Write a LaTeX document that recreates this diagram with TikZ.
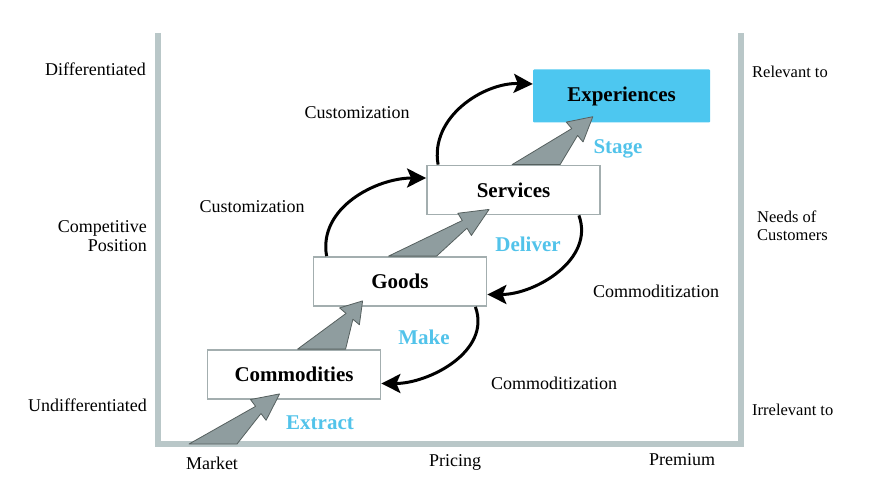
\documentclass[tikz,border=0pt]{standalone}
\usepackage{fontspec}
\setmainfont{Liberation Serif}
\usepackage{tikz}
\usepackage{xcolor}
\usetikzlibrary{arrows.meta,positioning,calc}
\definecolor{framegray}{HTML}{B9C7C8}
\definecolor{boxgray}{HTML}{A3AEAF}
\definecolor{expcyan}{HTML}{4DC7F0}
\definecolor{stagecyan}{HTML}{52C3EA}
\definecolor{arrowfill}{HTML}{8F9D9F}
\definecolor{arrowline}{HTML}{56605F}
\tikzset{
  stagebox/.style={
    draw=boxgray,
    fill=white,
    line width=1.8pt,
    minimum width=173pt,
    minimum height=49pt,
    inner sep=0pt,
    font=\fontsize{21}{23}\selectfont\bfseries
  },
  topbox/.style={
    fill=expcyan,
    rounded corners=1pt,
    minimum width=177pt,
    minimum height=53pt,
    inner sep=0pt,
    font=\fontsize{21}{23}\selectfont\bfseries
  },
  verblabel/.style={text=stagecyan, inner sep=0pt, font=\fontsize{21}{23}\selectfont\bfseries},
  sidelabel/.style={inner sep=0pt, align=right, font=\fontsize{18}{19}\selectfont},
  rightlabel/.style={inner sep=0pt, align=left, font=\fontsize{16.5}{18}\selectfont},
  flowlabel/.style={inner sep=0pt, font=\fontsize{18}{20}\selectfont},
  framefill/.style={draw=framegray, line width=5.5pt},
  cyclearrow/.style={-{Stealth[length=19pt,width=19pt,inset=4pt]}, line width=3pt, draw=black},
  stepshape/.style={fill=arrowfill, draw=arrowline, line width=0.8pt, line join=round}
}
\newcommand{\stagearrow}[2]{%
  \path ($(#1)!0.68!(#2)$) coordinate (neck);
  \draw[stepshape] ($(#1)+(-24,0)$) -- ($(neck)!4.5pt!90:(#2)$) -- ($(neck)!13pt!90:(#2)$)
    -- (#2) -- ($(neck)!13pt!-90:(#2)$) -- ($(neck)!4.5pt!-90:(#2)$) -- ($(#1)+(24,0)$) -- cycle;
}

\begin{document}
\begin{tikzpicture}[x=1pt,y=-1pt]
\useasboundingbox (0,0) rectangle (881,492);

\draw[framefill] (158,33) -- (158,444) -- (741,444) -- (741,33);

\node[stagebox] (commod) at (294,374.5) {Commodities};
\node[stagebox] (goods) at (400,281.5) {Goods};
\node[stagebox] (serv) at (513.5,190) {Services};
\node[topbox] (exp) at (621.5,96) {Experiences};

\coordinate (market) at (213,444);
\coordinate (t1) at ([xshift=73pt,yshift=6pt]commod.south west);
\coordinate (b2) at ([xshift=115pt]commod.north west);
\coordinate (t2) at ([xshift=50pt,yshift=6pt]goods.south west);
\coordinate (b3) at ([xshift=100pt]goods.north west);
\coordinate (t3) at ([xshift=63pt,yshift=6pt]serv.south west);
\coordinate (b4) at ([xshift=110pt]serv.north west);
\coordinate (t4) at ([xshift=60pt,yshift=6pt]exp.south west);

\stagearrow{market}{t1}
\stagearrow{b2}{t2}
\stagearrow{b3}{t3}
\stagearrow{b4}{t4}

\draw[cyclearrow] ([xshift=14pt]goods.north west) to[out=100,in=180] ([yshift=12pt]serv.west);
\draw[cyclearrow] ([xshift=12pt]serv.north west) to[out=100,in=178] ([yshift=12pt]exp.west);
\draw[cyclearrow] ([xshift=-22pt]serv.south east) to[out=-70,in=0] ([yshift=-13pt]goods.east);
\draw[cyclearrow] ([xshift=-12pt]goods.south east) to[out=-70,in=0] ([yshift=-9pt]commod.east);

\node[flowlabel] (cust2) at (357,113) {Customization};
\node[flowlabel] (cust1) at (252,207) {Customization};
\node[flowlabel] (comm1) at (656,291) {Commoditization};
\node[flowlabel] (comm2) at (554,383) {Commoditization};

\node[verblabel] (stage) at (618,149) {Stage};
\node[verblabel] (deliver) at (528,244) {Deliver};
\node[verblabel] (make) at (424,337) {Make};
\node[verblabel] (extract) at (320,423) {Extract};

\node[sidelabel, anchor=east] (diff) at (146,69) {Differentiated};
\node[sidelabel, anchor=east] (pos) at (147,236) {Competitive\\Position};
\node[sidelabel, anchor=east] (undiff) at (147,405) {Undifferentiated};

\node[rightlabel, anchor=west] (rel) at (752,72) {Relevant to};
\node[rightlabel, anchor=west] (needs) at (757,226) {Needs of\\Customers};
\node[rightlabel, anchor=west] (irrel) at (752,410) {Irrelevant to};

\node[flowlabel] (market lbl) at (212,463) {Market};
\node[flowlabel] (pricing) at (455,462) {Pricing};
\node[flowlabel] (premium) at (682,460) {Premium};
\end{tikzpicture}
\end{document}
